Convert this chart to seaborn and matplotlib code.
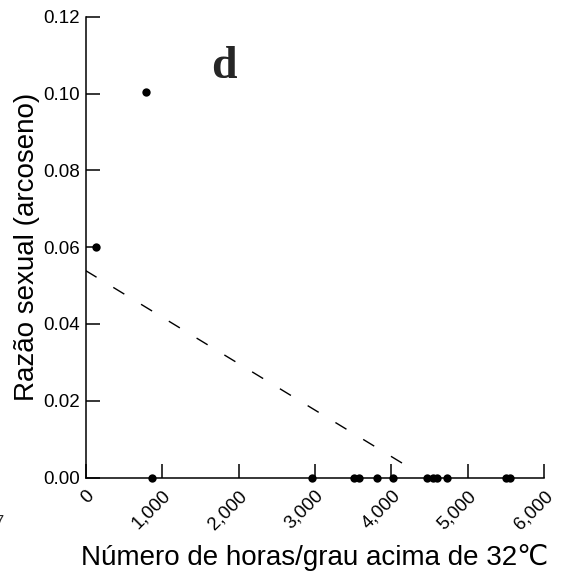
import numpy as np
import pandas as pd
import matplotlib
matplotlib.use("Agg")
import matplotlib.pyplot as plt
import seaborn as sns

# Hours/degree above 32 °C and arcsine-transformed sex ratio per nest
horas = [137, 791, 865, 2961, 3516, 3578, 3806, 4026, 4460, 4546, 4591, 4722, 5499, 5546]
razao = [0.060, 0.1005, 0.0, 0.0, 0.0, 0.0, 0.0, 0.0, 0.0, 0.0, 0.0, 0.0, 0.0, 0.0]

x_ticks = [0, 1000, 2000, 3000, 4000, 5000, 6000]
x_ticklabels = ["0", "1,000", "2,000", "3,000", "4,000", "5,000", "6,000"]
y_ticks = [0.00, 0.02, 0.04, 0.06, 0.08, 0.10, 0.12]
y_ticklabels = ["0.00", "0.02", "0.04", "0.06", "0.08", "0.10", "0.12"]

# range over which the fitted line is shown
fit_range = [0, 4200]

df = pd.DataFrame({"horas": horas, "razao": razao})
slope, intercept = np.polyfit(df["horas"], df["razao"], 1)
fit = pd.DataFrame({"horas": fit_range})
fit["razao"] = intercept + slope * fit["horas"]

sns.set_theme(style="ticks")
plt.rcParams["font.family"] = ["Liberation Sans", "DejaVu Sans"]

fig = plt.figure(figsize=(5.63, 5.76), dpi=100)
ax = fig.add_axes([0.1519, 0.171, 0.8152, 0.7995])

sns.lineplot(data=fit, x="horas", y="razao", ax=ax, color="black", lw=1.0,
             linestyle=(0, (9.3, 14.1)))
sns.scatterplot(data=df, x="horas", y="razao", ax=ax, color="black", s=36,
                edgecolor="black", linewidth=0, clip_on=False, zorder=5)

ax.set_xlim(0, 6000)
ax.set_ylim(0, 0.12)
ax.set_xticks(x_ticks)
ax.set_xticklabels(x_ticklabels)
ax.set_yticks(y_ticks)
ax.set_yticklabels(y_ticklabels)

for s in ["top", "right"]:
    ax.spines[s].set_visible(False)
for s in ["left", "bottom"]:
    ax.spines[s].set_linewidth(1.1)
    ax.spines[s].set_color("black")

ax.tick_params(axis="both", direction="in", length=10, width=1.1, color="black",
               labelsize=13.5, labelcolor="black")
ax.tick_params(axis="y", pad=4)
ax.tick_params(axis="x", pad=7)
plt.setp(ax.get_xticklabels(), rotation=45, ha="right", rotation_mode="anchor")

ax.set_xlabel("Número de horas/grau acima de 32℃", fontsize=20, color="black", labelpad=8)
ax.set_ylabel("Razão sexual (arcoseno)", fontsize=20, color="black", labelpad=2)

fig.text(0.398, 0.8646, "d", fontsize=33, fontweight="bold",
         family="Liberation Serif", ha="center", va="baseline")
fig.text(0.006, 0.093, "7", fontsize=12, ha="right", va="center")

fig.savefig("out.png", dpi=100)
